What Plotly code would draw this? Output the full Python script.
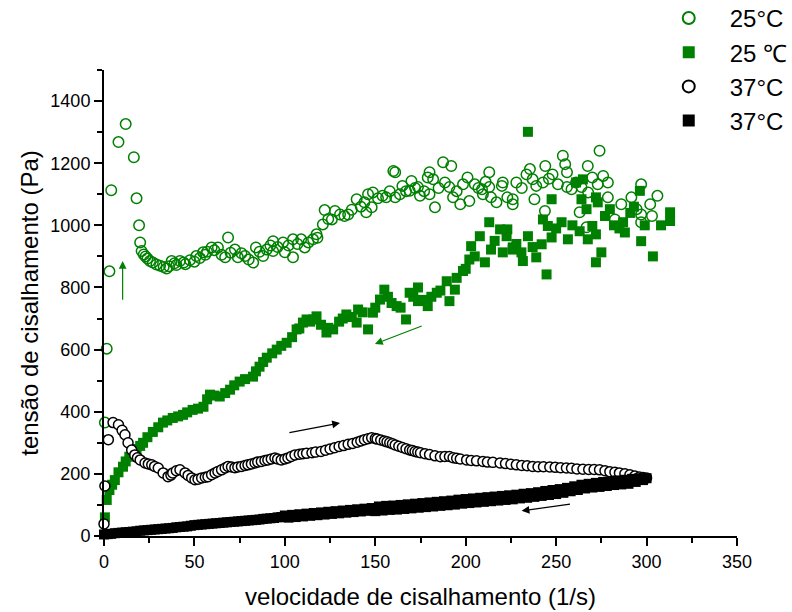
import plotly.graph_objects as go

# ---------------- data ----------------
# 25 °C, increasing shear rate (green open circles)
gc_x = [0.5, 1.5, 3, 4, 8, 12, 16.5, 18, 19.4, 20, 20.8, 22, 23, 24, 25.4, 27, 29, 31, 33, 34.6,
        36, 37.4, 39, 40, 42, 44, 45, 47.5, 50, 51, 53, 54.8, 56, 57, 59.5, 61, 63, 65, 67, 68.6,
        70, 72.4, 74, 76, 78, 80, 82.5, 84, 86, 88, 90, 92, 93.5, 93.5, 96, 99, 100, 102, 104.5, 104.5,
        107, 109, 111, 113, 115.6, 117.5, 118, 121, 122, 124, 126, 127.7, 130.5, 133, 135, 137, 139.7, 142, 144, 145,
        146, 148, 148.7, 151.5, 154, 156, 158, 160, 161, 161, 163.6, 165, 167, 169, 170, 172, 173.6, 174.7,
        177, 179, 180, 180, 182, 183, 185, 187.5, 188.5, 191, 192, 193, 195, 197, 198.5, 201, 202, 205,
        207, 209, 209.5, 211, 213, 213, 214, 217, 220, 220.5, 223, 226, 226, 228, 231, 233.6, 235.5, 237,
        238, 239, 242.7, 243.8, 244, 246, 248, 251, 253.7, 255, 256, 256, 258.5, 261, 263, 264, 266.8, 267.5,
        267.7, 270, 273, 274, 276, 278.6, 278.6, 282.5, 286, 291.6, 294.5, 297, 297, 297, 302, 303, 306]
gc_y = [365, 603, 852, 1113, 1268, 1326, 1219, 1087, 1000, 945, 917, 906, 900, 893, 885, 880, 874, 870, 866, 861,
        868, 885, 878, 872, 885, 880, 875, 888, 883, 901, 895, 913, 905, 915, 929, 920, 929, 905, 897, 961,
        912, 922, 897, 910, 901, 890, 880, 929, 915, 901, 922, 935, 949, 917, 930, 945, 913, 935, 955, 897,
        940, 955, 929, 945, 955, 971, 960, 1003, 1049, 1020, 1019, 1046, 1035, 1030, 1035, 1050, 1084, 1060, 1074, 1042,
        1100, 1058, 1106, 1087, 1095, 1090, 1110, 1175, 1171, 1090, 1100, 1127, 1110, 1111, 1143, 1120, 1123, 1095,
        1110, 1154, 1171, 1100, 1148, 1058, 1120, 1203, 1138, 1123, 1191, 1090, 1110, 1068, 1132, 1154, 1078, 1132,
        1120, 1116, 1100, 1140, 1171, 1123, 1090, 1074, 1127, 1138, 1090, 1084, 1068, 1138, 1120, 1164, 1181, 1148,
        1084, 1127, 1138, 1046, 1191, 1150, 1164, 1132, 1224, 1197, 1171, 1123, 1116, 1138, 1042, 1123, 994, 1191,
        1106, 1154, 1132, 1240, 1159, 1138, 1090, 1019, 1068, 1090, 1052, 1132, 1035, 1010, 1068, 1030, 1095]

# 25 °C, decreasing shear rate (green filled squares)
gs_x = [0.5, 1.5, 3, 4.5, 6, 8, 10.5, 12, 14, 16, 18, 20, 21.6, 24, 27, 30, 32.6, 35, 38, 41,
        43.7, 46, 49, 52, 55, 57, 58.6, 61, 64, 67, 69.7, 72, 75, 78, 82.4, 84, 86, 88, 90, 93,
        95.5, 98, 101, 104, 106.5, 108, 110, 112, 114, 115.6, 117.5, 120, 123, 124, 126.7, 130, 132, 134, 137, 139.7,
        140.5, 143, 146, 148.7, 150, 152.6, 155, 157, 159, 161.8, 164, 167, 169, 171, 173.6, 173.6, 176, 179, 181, 184,
        186, 189.5, 191, 194, 195, 198.5, 200, 202, 203, 205, 207.8, 210.6, 213, 214, 216, 219, 220.5, 222.6, 223, 226,
        226, 228, 230.8, 231.6, 234.4, 234.4, 237, 239, 242, 242.7, 244.7, 245.4, 247.5, 247.5, 250, 253, 256.5, 259, 261, 263,
        264, 264.8, 266.8, 267.5, 270, 272, 272, 272, 273, 275, 277, 279.7, 282, 285, 287, 288, 291, 293, 296.3, 297,
        299, 303.5, 308, 313, 313]
gs_y = [60, 116, 148, 165, 180, 205, 223, 240, 255, 268, 280, 290, 300, 318, 335, 350, 365, 372, 380, 385,
        390, 398, 406, 410, 416, 440, 455, 452, 449, 460, 471, 485, 497, 505, 513, 530, 545, 560, 574, 588,
        600, 612, 622, 640, 665, 668, 687, 697, 690, 697, 707, 680, 655, 670, 665, 690, 700, 713, 705, 687,
        729, 720, 665, 719, 735, 761, 793, 770, 750, 740, 735, 697, 783, 770, 800, 756, 760, 740, 770, 783,
        790, 820, 756, 793, 831, 853, 860, 890, 933, 900, 965, 881, 1010, 922, 950, 987, 913, 965, 987, 922,
        929, 940, 913, 885, 965, 1301, 930, 897, 939, 1019, 842, 998, 961, 1084, 990, 1010, 955, 1000, 1138, 981,
        1084, 1148, 1052, 955, 998, 1090, 971, 881, 1074, 913, 1030, 1052, 1000, 990, 1010, 977, 1040, 1060, 1111, 949,
        1000, 900, 1000, 1042, 1014]

# 37 °C, increasing shear rate (black open circles)
bc_x = [0, 0.5, 2.4, 5, 8, 10, 11.6, 13.3, 15.3, 17, 18.5, 20, 22.7, 24.5, 26.4, 28, 30, 32.7, 35.4, 37,
        38, 40, 42, 44.8, 46.5, 48.5, 50.3, 52, 54, 56, 57.5, 59.5, 61.4, 63, 65, 67, 68.6, 70.5, 72.4, 74,
        76, 78, 79.6, 81.5, 83.5, 85, 87, 89, 90.6, 92.5, 94.5, 96, 98, 100, 101.7, 103.5, 105.6, 108, 110, 112,
        115, 117, 120, 122.5, 125, 127.5, 130, 132.5, 135, 137.5, 140, 142, 144, 146, 148, 150, 151, 153, 155, 156.5,
        158, 159.5, 161, 163, 165, 167, 169, 170.5, 172, 173.5, 175, 177.5, 180, 183, 186, 188.5, 191, 193, 195, 197,
        200.5, 203, 206, 209.5, 212, 215, 219, 222, 225, 228, 231, 234, 237, 240, 243, 246.5, 249.5, 252.5, 255.7, 258.5,
        261.5, 264.8, 268, 271, 274, 277, 279.7, 282.5, 285, 288, 290.8, 293.5, 296, 298, 300]
bc_y = [39, 161, 310, 365, 358, 340, 326, 300, 277, 261, 252, 245, 235, 232, 229, 224, 219, 203, 191, 196,
        203, 210, 213, 203, 195, 187, 181, 183, 187, 189, 191, 197, 203, 208, 213, 219, 224, 222, 220, 222,
        224, 227, 229, 232, 235, 238, 240, 243, 245, 248, 251, 248, 245, 248, 251, 256, 261, 263, 265, 266,
        268, 270, 272, 276, 280, 284, 288, 291, 295, 298, 302, 306, 310, 313, 316, 314, 312, 309, 306, 303,
        300, 297, 293, 289, 285, 281, 277, 275, 272, 270, 268, 265, 262, 258, 255, 256, 256, 252, 250, 248,
        245, 243, 242, 240, 238, 237, 235, 233, 231, 229, 227, 226, 224, 223, 223, 222, 221, 220, 219, 218,
        216, 215, 214, 214, 213, 210, 207, 205, 203, 200, 197, 193, 190, 188, 187]

# 37 °C, decreasing shear rate (black filled squares)
bs_x = [0, 2, 4, 6, 8, 10, 12, 14, 16, 18, 20, 22, 24, 26, 28, 30, 32, 34, 36, 38,
        40, 42, 44, 46, 48, 50, 52, 54, 56, 58, 60, 62, 64, 66, 68, 70, 72, 74, 76, 78,
        80, 82, 84, 86, 88, 90, 92, 94, 96, 98, 100, 102, 104, 106, 108, 110, 112, 114, 116, 118,
        120, 122, 124, 126, 128, 130, 132, 134, 136, 138, 140, 142, 144, 146, 148, 150, 152, 154, 156, 158,
        160, 162, 164, 166, 168, 170, 172, 174, 176, 178, 180, 182, 184, 186, 188, 190, 192, 194, 196, 198,
        200, 202, 204, 206, 208, 210, 212, 214, 216, 218, 220, 222, 224, 226, 228, 230, 232, 234, 236, 238,
        240, 242, 244, 246, 248, 250, 252, 254, 256, 258, 260, 262, 264, 266, 268, 270, 272, 274, 276, 278,
        280, 282, 284, 286, 288, 290, 292, 294, 296, 298, 300]
bs_y = [5, 6, 7, 9, 10, 11, 12, 13, 14, 15, 17, 18, 19, 20, 21, 22, 23, 24, 25, 26,
        28, 29, 30, 31, 33, 35, 36, 37, 38, 39, 40, 41, 42, 43, 44, 45, 46, 47, 48, 49,
        50, 51, 52, 53, 55, 56, 57, 58, 60, 61, 66, 59, 68, 61, 70, 63, 72, 65, 74, 67,
        76, 69, 78, 71, 80, 73, 82, 75, 84, 77, 86, 79, 88, 81, 90, 80, 95, 82, 97, 84,
        98, 85, 100, 87, 102, 89, 104, 91, 106, 93, 108, 95, 110, 97, 112, 99, 114, 101, 117, 104,
        119, 106, 121, 108, 123, 110, 125, 112, 127, 114, 129, 116, 131, 118, 133, 121, 136, 123, 138, 126,
        141, 129, 145, 132, 148, 135, 151, 139, 155, 144, 160, 148, 165, 153, 168, 156, 171, 158, 174, 161,
        176, 164, 179, 166, 181, 168, 184, 174, 186, 180, 186]

legend_names = ["25°C", "25 ℃", "37°C", "37°C"]

GREEN = "#008000"
FONT = "Liberation Sans, Arial, sans-serif"

fig = go.Figure()
fig.add_trace(go.Scatter(x=gc_x, y=gc_y, mode="markers", name=legend_names[0],
                         marker=dict(symbol="circle-open", size=10.5, color=GREEN, line=dict(width=1.5, color=GREEN)),
                         cliponaxis=False))
fig.add_trace(go.Scatter(x=gs_x, y=gs_y, mode="markers", name=legend_names[1],
                         marker=dict(symbol="square", size=10, color=GREEN, line=dict(width=0)),
                         cliponaxis=False))
fig.add_trace(go.Scatter(x=bc_x, y=bc_y, mode="markers", name=legend_names[2],
                         marker=dict(symbol="circle", size=10, color="white", line=dict(width=1.5, color="black")),
                         cliponaxis=False))
fig.add_trace(go.Scatter(x=bs_x, y=bs_y, mode="markers", name=legend_names[3],
                         marker=dict(symbol="square", size=10, color="black", line=dict(width=0)),
                         cliponaxis=False))

arrows = [
    dict(x=10.3, y=885, ax=10.3, ay=756, color=GREEN),
    dict(x=149.8, y=618, ax=176.5, ay=678, color=GREEN),
    dict(x=130.5, y=364, ax=101.7, ay=332, color="black"),
    dict(x=230.9, y=81, ax=258.5, ay=103, color="black"),
]
for a in arrows:
    fig.add_annotation(x=a["x"], y=a["y"], ax=a["ax"], ay=a["ay"], xref="x", yref="y", axref="x", ayref="y",
                       text="", showarrow=True, arrowhead=2, arrowsize=1.3, arrowwidth=1.2, arrowcolor=a["color"])

axis_common = dict(showline=True, linecolor="black", linewidth=2, ticks="outside", ticklen=8, tickwidth=1.5,
                   tickcolor="black", showgrid=False, zeroline=False, mirror=False,
                   tickfont=dict(family=FONT, size=18, color="black"))

fig.update_xaxes(range=[0, 350], dtick=50, tick0=0,
                 minor=dict(dtick=25, ticks="outside", ticklen=5, tickwidth=1.5, tickcolor="black"),
                 title=dict(text="velocidade de cisalhamento (1/s)", font=dict(family=FONT, size=24, color="black"),
                            standoff=18),
                 **axis_common)
fig.update_yaxes(range=[0, 1500], tickvals=[0, 200, 400, 600, 800, 1000, 1200, 1400],
                 minor=dict(dtick=100, ticks="outside", ticklen=5, tickwidth=1.5, tickcolor="black"),
                 title=dict(text="tensão de cisalhamento (Pa)", font=dict(family=FONT, size=24, color="black"),
                            standoff=5),
                 **axis_common)

fig.update_layout(
    width=792, height=612,
    margin=dict(l=104, r=55, t=70, b=76, autoexpand=False),
    paper_bgcolor="white", plot_bgcolor="white",
    font=dict(family=FONT, color="black"),
    showlegend=True,
    legend=dict(x=0.859, y=1.159, xanchor="left", yanchor="top", bgcolor="rgba(0,0,0,0)",
                font=dict(family=FONT, size=24, color="black"),
                itemwidth=72, itemsizing="constant"),
)

fig.write_html("out.html")
